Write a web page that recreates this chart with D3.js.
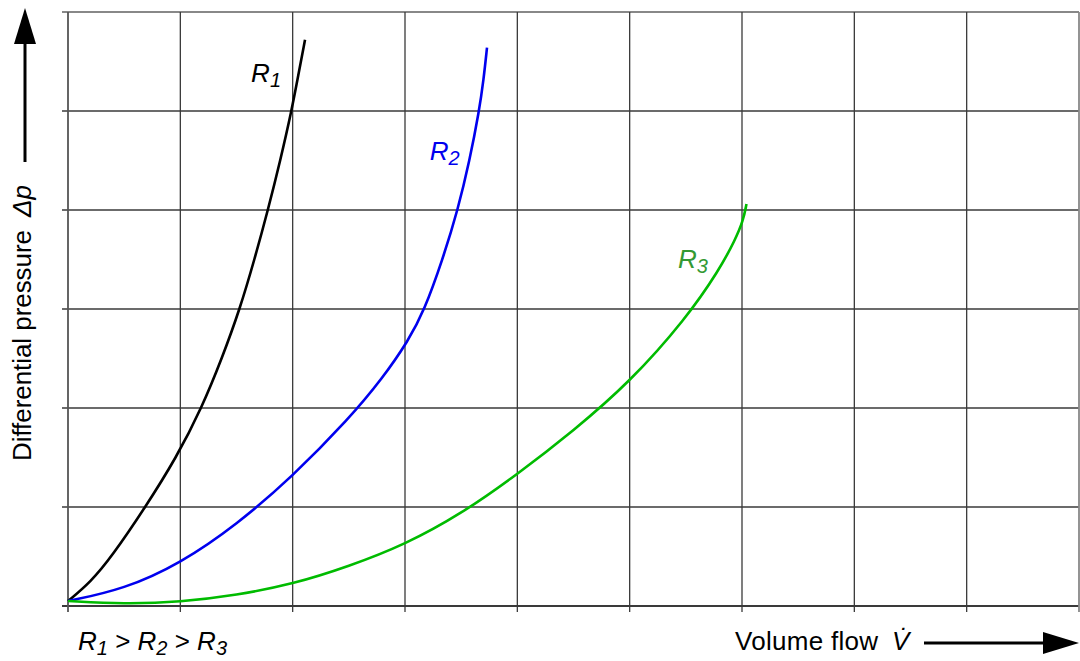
<!DOCTYPE html>
<html><head><meta charset="utf-8">
<script src="https://cdn.jsdelivr.net/npm/d3@7"></script>
<style>body{margin:0;background:#fff}svg{display:block;font-family:Arial,"Liberation Sans",sans-serif}</style>
</head><body>
<svg id="c" width="1080" height="661"></svg>
<script>
// values in grid units (x: 0..9, y: 0..6)
const r1 = [[0,0.05],[0.2,0.24],[0.39,0.5],[0.69,1.0],[0.965,1.5],[1.19,2.0],[1.37,2.5],[1.53,3.0],[1.66,3.5],[1.78,4.0],[1.89,4.5],[1.99,5.0],[2.05,5.36],[2.11,5.72]];
const r2 = [[0,0.05],[0.5,0.17],[1.0,0.43],[1.5,0.82],[2.0,1.31],[2.5,1.89],[2.8,2.3],[3.03,2.68],[3.17,2.98],[3.335,3.5],[3.47,4.0],[3.575,4.5],[3.66,5.0],[3.7,5.32],[3.73,5.64]];
const r3 = [[0,0.05],[0.5,0.02],[1.0,0.04],[1.5,0.11],[2.0,0.22],[2.5,0.4],[3.0,0.62],[3.5,0.93],[4.0,1.33],[4.5,1.77],[5.0,2.26],[5.5,2.9],[5.8,3.4],[5.94,3.7],[6.01,3.89],[6.04,4.06]];
const xTicks = [0,1,2,3,4,5,6,7,8,9];
const yTicks = [0,1,2,3,4,5,6];
const series = [
  {name:"R", sub:"1", data:r1, color:"#000000", label:"#000000", lx:1.63, ly:5.29},
  {name:"R", sub:"2", data:r2, color:"#0000ee", label:"#0000ee", lx:3.22, ly:4.51},
  {name:"R", sub:"3", data:r3, color:"#00bb00", label:"#339933", lx:5.43, ly:3.41}
];

const svg = d3.select("#c");
const L=68, R=1079, T=12, B=606;
const x = d3.scaleLinear().domain([0,9]).range([L,R]);
const y = d3.scaleLinear().domain([0,6]).range([B,T]);

// grid
const g = svg.append("g");
g.selectAll(".hg").data(yTicks).enter().append("line")
  .attr("x1",L-6).attr("x2",R).attr("y1",d=>y(d)).attr("y2",d=>y(d))
  .attr("stroke",d=>d===6?"#888":"#3a3a3a").attr("stroke-width",d=>d===0||d===6?1.8:1.3);
g.selectAll(".vg").data(xTicks).enter().append("line")
  .attr("x1",d=>x(d)).attr("x2",d=>x(d)).attr("y1",T).attr("y2",B+6)
  .attr("stroke",d=>d===9?"#888":(d===0?"#555":"#3a3a3a")).attr("stroke-width",d=>d===0||d===9?1.8:1.3);

// curves
const line = d3.line().x(d=>x(d[0])).y(d=>y(d[1])).curve(d3.curveBasis);
series.forEach(s=>{
  svg.append("path").attr("d",line(s.data)).attr("fill","none").attr("stroke",s.color).attr("stroke-width",2.6);
  const t = svg.append("text").attr("x",x(s.lx)).attr("y",y(s.ly)).attr("fill",s.label)
    .attr("font-size",26).attr("font-style","italic").text(s.name);
  t.append("tspan").attr("font-size",20).attr("dy",5).text(s.sub);
});

// bottom-left relation text
const rel = svg.append("text").attr("x",78).attr("y",650).attr("font-size",26).attr("font-style","italic").attr("fill","#000");
rel.append("tspan").text("R");
rel.append("tspan").attr("font-size",20).attr("dy",5).text("1");
rel.append("tspan").attr("dy",-5).attr("font-style","normal").text(" > ");
rel.append("tspan").text("R");
rel.append("tspan").attr("font-size",20).attr("dy",5).text("2");
rel.append("tspan").attr("dy",-5).attr("font-style","normal").text(" > ");
rel.append("tspan").text("R");
rel.append("tspan").attr("font-size",20).attr("dy",5).text("3");

// x axis label + arrow
svg.append("text").attr("x",735).attr("y",650).attr("font-size",26).attr("textLength",143).attr("fill","#000").text("Volume flow");
svg.append("text").attr("x",892).attr("y",650).attr("font-size",26).attr("font-style","italic").attr("fill","#000").text("V\u0307");
svg.append("line").attr("x1",924).attr("x2",1045).attr("y1",643).attr("y2",643).attr("stroke","#000").attr("stroke-width",3);
svg.append("path").attr("d","M1043,632 L1079,643 L1043,654 Z").attr("fill","#000");

// y axis label + arrow
svg.append("text").attr("transform","translate(31,461) rotate(-90)").attr("font-size",26).attr("textLength",231).attr("fill","#000").text("Differential pressure");
svg.append("text").attr("transform","translate(31,217) rotate(-90)").attr("font-size",26).attr("font-style","italic").attr("fill","#000").text("\u0394p");
svg.append("line").attr("x1",25).attr("x2",25).attr("y1",162).attr("y2",42).attr("stroke","#000").attr("stroke-width",3);
svg.append("path").attr("d","M14,44 L25,8 L36,44 Z").attr("fill","#000");
</script>
</body></html>
